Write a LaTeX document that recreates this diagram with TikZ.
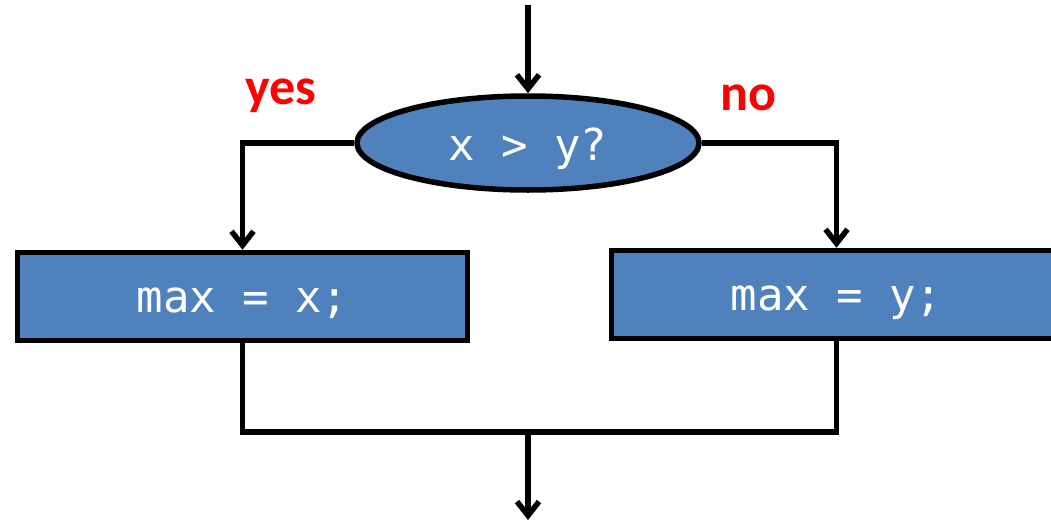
\documentclass[tikz,border=0pt]{standalone}
\usepackage{fontspec}
\setmonofont{DejaVu Sans Mono}
\newfontfamily\labelfont{Carlito}
\usetikzlibrary{shapes.geometric,arrows.meta}
\definecolor{boxblue}{HTML}{4F81BD}
\definecolor{answerred}{HTML}{FF0000}
\tikzset{
  flowline/.style={line width=5.5pt, draw=black},
  flowarrow/.style={flowline, -{Straight Barb[length=14pt,width=22pt]}},
  codefont/.style={text=white, font=\fontsize{44pt}{52pt}\selectfont\ttfamily},
  decision/.style={ellipse, draw=black, line width=5.5pt, fill=boxblue,
    minimum width=342pt, minimum height=94pt, inner sep=0pt,
    text height=34pt, text depth=0pt, codefont},
  action/.style={rectangle, draw=black, line width=5.5pt, fill=boxblue,
    minimum width=450pt, minimum height=88pt, inner sep=0pt,
    text height=31pt, text depth=0pt, codefont},
  answer/.style={text=answerred, font=\fontsize{52pt}{60pt}\selectfont\labelfont\bfseries, inner sep=0pt}
}
\begin{document}
\begin{tikzpicture}[x=1pt, y=-1pt]
  \useasboundingbox (0,0) rectangle (1051,522);
  \clip (0,0) rectangle (1051,522);

  % decision and the two branches
  \node[decision] (test) at (528,143) {x > y?};
  \node[action] (yesbox) at (242.5,296.5) {max = x;};
  \node[action] (nobox) at (836.5,294.5) {max = y;};

  % branch labels
  \node[answer] (yeslabel) at (281,96) {yes};
  \node[answer] (nolabel) at (748,98) {no};

  % entry and exit points, and the merge point
  \coordinate (entry) at (528,5);
  \coordinate (merge) at (528,432);
  \coordinate (exit) at (528,520);

  \draw[flowarrow] (entry) -- (test.north);
  \draw[flowarrow] (test.west) -| (yesbox.north);
  \draw[flowarrow] (test.east) -| (nobox.north);
  \draw[flowline] (yesbox.south) |- (merge) -| (nobox.south);
  \draw[flowarrow] (merge) -- (exit);
\end{tikzpicture}
\end{document}
